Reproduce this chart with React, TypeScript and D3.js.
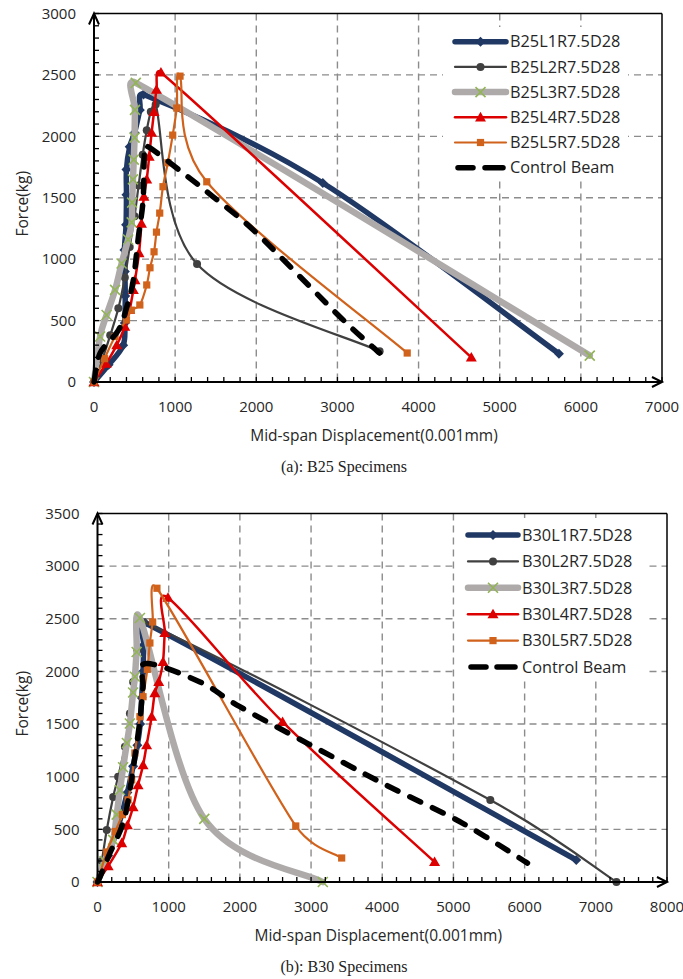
import React from "react";
import * as d3 from "d3";

type Pt = [number, number];

// ---------- (a) B25 specimens ----------
const dispTicksA = [0, 1000, 2000, 3000, 4000, 5000, 6000, 7000];
const forceTicksA = [0, 500, 1000, 1500, 2000, 2500, 3000];
const namesA = ["B25L1R7.5D28", "B25L2R7.5D28", "B25L3R7.5D28", "B25L4R7.5D28", "B25L5R7.5D28", "Control Beam"];

const b25L1: Pt[] = [[0, 0], [180, 140], [360, 300], [380, 480], [385, 700], [380, 900], [375, 1075], [395, 1280], [400, 1525], [400, 1730], [440, 1915], [500, 2030], [565, 2215], [610, 2340], [2820, 1620], [5730, 230]];
const b25L2: Pt[] = [[0, 0], [100, 180], [200, 380], [300, 600], [380, 850], [440, 1100], [500, 1350], [550, 1600], [600, 1850], [650, 2050], [700, 2200], [760, 2260], [1270, 960], [3520, 250]];
const b25L3: Pt[] = [[0, 0], [75, 370], [155, 545], [260, 750], [340, 965], [420, 1160], [465, 1300], [470, 1460], [480, 1650], [490, 1810], [500, 1990], [505, 2215], [515, 2435], [6110, 215]];
const b25L4: Pt[] = [[0, 0], [150, 150], [280, 300], [380, 450], [440, 590], [485, 750], [505, 830], [555, 1050], [585, 1290], [615, 1510], [650, 1650], [680, 1835], [710, 2030], [740, 2200], [770, 2380], [825, 2520], [4650, 200]];
const b25L5: Pt[] = [[0, 0], [130, 190], [260, 370], [400, 505], [460, 585], [565, 627], [650, 790], [690, 930], [740, 1060], [770, 1220], [810, 1375], [850, 1590], [910, 1785], [970, 2010], [1020, 2230], [1060, 2490], [1390, 1630], [3860, 236]];
const controlA: Pt[] = [[0, 0], [75, 235], [300, 420], [400, 600], [485, 830], [545, 1170], [605, 1480], [620, 1835], [650, 1920], [1100, 1700], [1465, 1510], [1960, 1240], [2580, 830], [3110, 480], [3520, 236]];

// ---------- (b) B30 specimens ----------
const dispTicksB = [0, 1000, 2000, 3000, 4000, 5000, 6000, 7000, 8000];
const forceTicksB = [0, 500, 1000, 1500, 2000, 2500, 3000, 3500];
const namesB = ["B30L1R7.5D28", "B30L2R7.5D28", "B30L3R7.5D28", "B30L4R7.5D28", "B30L5R7.5D28", "Control Beam"];

const b30L1: Pt[] = [[0, 0], [150, 250], [300, 550], [420, 850], [500, 1100], [560, 1300], [600, 1500], [620, 1750], [640, 2000], [650, 2250], [670, 2460], [6725, 210]];
const b30L2: Pt[] = [[0, 0], [60, 200], [130, 494], [220, 807], [290, 1000], [385, 1285], [455, 1600], [500, 1900], [560, 2200], [640, 2470], [5518, 778], [7290, 0]];
const b30L3: Pt[] = [[0, 0], [100, 200], [220, 400], [270, 640], [315, 874], [360, 1090], [413, 1320], [455, 1505], [500, 1800], [526, 1950], [550, 2185], [596, 2507], [1500, 600], [3165, 0]];
const b30L4: Pt[] = [[0, 0], [150, 150], [340, 370], [420, 540], [500, 712], [570, 920], [640, 1110], [690, 1300], [760, 1570], [805, 1795], [860, 1900], [920, 2090], [945, 2365], [990, 2700], [2600, 1520], [4735, 190]];
const b30L5: Pt[] = [[0, 0], [130, 285], [250, 480], [350, 640], [430, 780], [480, 970], [525, 1225], [596, 1570], [640, 1760], [700, 2020], [736, 2270], [775, 2470], [835, 2790], [2785, 532], [3430, 228]];
const controlB: Pt[] = [[0, 0], [35, 47], [175, 275], [360, 560], [455, 874], [525, 1187], [596, 1540], [640, 1852], [680, 2075], [1440, 1900], [2000, 1665], [3300, 1190], [4100, 905], [5125, 560], [6040, 180]];

const seriesA = [b25L1, b25L2, b25L3, b25L4, b25L5, controlA];
const seriesB = [b30L1, b30L2, b30L3, b30L4, b30L5, controlB];

type Style = { color: string; width: number; marker: string; mColor: string; mSize: number; dash?: string };
const styles: Style[] = [
  { color: "#203864", width: 5.5, marker: "diamond", mColor: "#203864", mSize: 5 },
  { color: "#404040", width: 2.2, marker: "circle", mColor: "#404040", mSize: 4 },
  { color: "#AEAAAA", width: 6.5, marker: "x", mColor: "#92B556", mSize: 5 },
  { color: "#DC0000", width: 2.5, marker: "triangle", mColor: "#DC0000", mSize: 5.5 },
  { color: "#D0621C", width: 2.2, marker: "square", mColor: "#D0621C", mSize: 3.6 },
  { color: "#000000", width: 5.5, marker: "none", mColor: "#000", mSize: 0, dash: "12 13" },
];

const FONT = "'Open Sans', 'Noto Sans', sans-serif";

// excel-like smoothed scatter line (catmull-rom with clamped handles)
function smoothPath(pts: Pt[]) {
  const p = d3.path();
  const n = pts.length;
  const dist = (a: Pt, b: Pt) => Math.hypot(a[0] - b[0], a[1] - b[1]);
  p.moveTo(pts[0][0], pts[0][1]);
  for (let i = 0; i < n - 1; i++) {
    const p0 = pts[Math.max(i - 1, 0)];
    const p1 = pts[i];
    const p2 = pts[i + 1];
    const p3 = pts[Math.min(i + 2, n - 1)];
    const d12 = dist(p1, p2);
    const d02 = dist(p0, p2);
    const d13 = dist(p1, p3);
    let f0 = 1 / 6;
    let f1 = 1 / 6;
    if (d02 / 6 > d12 / 2) f0 = d12 / (2 * d02);
    if (d13 / 6 > d12 / 2) f1 = d12 / (2 * d13);
    p.bezierCurveTo(
      p1[0] + (p2[0] - p0[0]) * f0, p1[1] + (p2[1] - p0[1]) * f0,
      p2[0] - (p3[0] - p1[0]) * f1, p2[1] - (p3[1] - p1[1]) * f1,
      p2[0], p2[1]
    );
  }
  return p.toString();
}

function Marker({ x, y, s }: { x: number; y: number; s: Style }) {
  const r = s.mSize;
  if (s.marker === "circle") return <circle cx={x} cy={y} r={r} fill={s.mColor} />;
  if (s.marker === "diamond")
    return <path d={`M${x},${y - r}L${x + r},${y}L${x},${y + r}L${x - r},${y}Z`} fill={s.mColor} />;
  if (s.marker === "square") return <rect x={x - r} y={y - r} width={2 * r} height={2 * r} fill={s.mColor} />;
  if (s.marker === "triangle")
    return <path d={`M${x},${y - r}L${x + r},${y + r * 0.75}L${x - r},${y + r * 0.75}Z`} fill={s.mColor} />;
  if (s.marker === "x")
    return (
      <path d={`M${x - r},${y - r}L${x + r},${y + r}M${x - r},${y + r}L${x + r},${y - r}`} stroke={s.mColor} strokeWidth={1.6} />
    );
  return null;
}

type ChartProps = {
  left: number; right: number; top: number; bottom: number;
  dispTicks: number[]; forceTicks: number[];
  series: Pt[][]; names: string[];
  legend: { x0: number; x1: number; y0: number; y1: number; lineX0: number; lineX1: number; textX: number; rowY: number; rowGap: number };
  caption: string;
};

function Chart(props: ChartProps) {
  const { left, right, top, bottom, dispTicks, forceTicks, series, names, legend, caption } = props;
  const xMax = dispTicks[dispTicks.length - 1];
  const yMax = forceTicks[forceTicks.length - 1];
  const x = d3.scaleLinear().domain([0, xMax]).range([left, right]);
  const y = d3.scaleLinear().domain([0, yMax]).range([bottom, top]);
  const minorX = d3.range(0, xMax + 1, 200);
  const minorY = d3.range(0, yMax + 1, 100);
  const cx = (left + right) / 2 - 4;

  return (
    <g>
      {/* grid */}
      {dispTicks.slice(1, -1).map((t) => (
        <line key={"gx" + t} x1={x(t)} x2={x(t)} y1={top} y2={bottom} stroke="#8C8C8C" strokeWidth={1.4} strokeDasharray="7 5" />
      ))}
      {forceTicks.slice(1, -1).map((t) => (
        <line key={"gy" + t} x1={left} x2={right} y1={y(t)} y2={y(t)} stroke="#8C8C8C" strokeWidth={1.4} strokeDasharray="7 5" />
      ))}
      {/* legend box */}
      <rect x={legend.x0} y={legend.y0} width={legend.x1 - legend.x0} height={legend.y1 - legend.y0} fill="#fff" />

      {/* frame */}
      <line x1={left} x2={right} y1={top} y2={top} stroke="#000" strokeWidth={1.5} />
      <line x1={right} x2={right} y1={top} y2={bottom} stroke="#000" strokeWidth={1.5} />

      {/* series */}
      {series.map((pts, i) => {
        const s = styles[i];
        const px: Pt[] = pts.map((d) => [x(d[0]), y(d[1])]);
        return (
          <g key={"s" + i}>
            <path d={smoothPath(px)} fill="none" stroke={s.color} strokeWidth={s.width}
              strokeDasharray={s.dash} strokeLinecap="round" strokeLinejoin="round" />
            {px.map((p, j) => <Marker key={j} x={p[0]} y={p[1]} s={s} />)}
          </g>
        );
      })}

      {/* axes */}
      <line x1={left} x2={right} y1={bottom} y2={bottom} stroke="#000" strokeWidth={2} />
      <line x1={left} x2={left} y1={top} y2={bottom} stroke="#000" strokeWidth={2} />
      {minorX.map((t) => (
        <line key={"tx" + t} x1={x(t)} x2={x(t)} y1={bottom} y2={bottom - 5} stroke="#000" strokeWidth={1.3} />
      ))}
      {minorY.map((t) => (
        <line key={"ty" + t} x1={left} x2={left + 5} y1={y(t)} y2={y(t)} stroke="#000" strokeWidth={1.3} />
      ))}
      <path d={`M${left - 5},${top + 11}L${left},${top}L${left + 5},${top + 11}`} fill="none" stroke="#000" strokeWidth={2} />
      <path d={`M${right - 10},${bottom - 5}L${right},${bottom}L${right - 10},${bottom + 5}`} fill="none" stroke="#000" strokeWidth={2} />

      {/* tick labels */}
      {dispTicks.map((t) => (
        <text key={"lx" + t} x={x(t)} y={bottom + 25} dy="0.35em" textAnchor="middle" fontSize={15} fill="#262626" fontFamily={FONT}>{t}</text>
      ))}
      {forceTicks.map((t) => (
        <text key={"ly" + t} x={left - 18} y={y(t)} dy="0.35em" textAnchor="end" fontSize={15} fill="#262626" fontFamily={FONT}>{t}</text>
      ))}
      <text x={cx} y={bottom + 54} dy="0.35em" textAnchor="middle" fontSize={15.5} fill="#262626" fontFamily={FONT}>Mid-span Displacement(0.001mm)</text>
      <text transform={`translate(23,${(top + bottom) / 2 + 6}) rotate(-90)`} dy="0.35em" textAnchor="middle" fontSize={15.5} fill="#262626" fontFamily={FONT}>Force(kg)</text>
      <text x={344} y={bottom + 84} dy="0.35em" textAnchor="middle" fontSize={16} fill="#222" fontFamily="'Liberation Serif', 'Times New Roman', serif">{caption}</text>

      {/* legend */}
      {names.map((name, i) => {
        const s = styles[i];
        const ly = legend.rowY + i * legend.rowGap;
        const mid = (legend.lineX0 + legend.lineX1) / 2;
        return (
          <g key={"lg" + i}>
            {s.dash ? (
              <>
                <line x1={legend.lineX0 + 3} x2={legend.lineX0 + 18} y1={ly} y2={ly} stroke={s.color} strokeWidth={s.width} strokeLinecap="round" />
                <line x1={legend.lineX1 - 21} x2={legend.lineX1 - 3} y1={ly} y2={ly} stroke={s.color} strokeWidth={s.width} strokeLinecap="round" />
              </>
            ) : (
              <line x1={legend.lineX0} x2={legend.lineX1} y1={ly} y2={ly} stroke={s.color} strokeWidth={s.width} strokeLinecap="round" />
            )}
            <Marker x={mid} y={ly} s={s} />
            <text x={legend.textX} y={ly} dy="0.35em" fontSize={16.3} fill="#262626" fontFamily={FONT}>{name}</text>
          </g>
        );
      })}
    </g>
  );
}

export default function App() {
  return (
    <svg width={683} height={979} style={{ position: "absolute", left: 0, top: 0, background: "#fff" }}>
      <rect width={683} height={979} fill="#fff" />
      <Chart left={94} right={662} top={13.5} bottom={382}
        dispTicks={dispTicksA} forceTicks={forceTicksA} series={seriesA} names={namesA}
        legend={{ x0: 443, x1: 628, y0: 27, y1: 178, lineX0: 455, lineX1: 506, textX: 510, rowY: 41.7, rowGap: 25.2 }}
        caption="(a): B25 Specimens" />
      <Chart left={97.5} right={667} top={513.5} bottom={882}
        dispTicks={dispTicksB} forceTicks={forceTicksB} series={seriesB} names={namesB}
        legend={{ x0: 455, x1: 648, y0: 518, y1: 678, lineX0: 468, lineX1: 518, textX: 522, rowY: 535, rowGap: 26.4 }}
        caption="(b): B30 Specimens" />
    </svg>
  );
}
